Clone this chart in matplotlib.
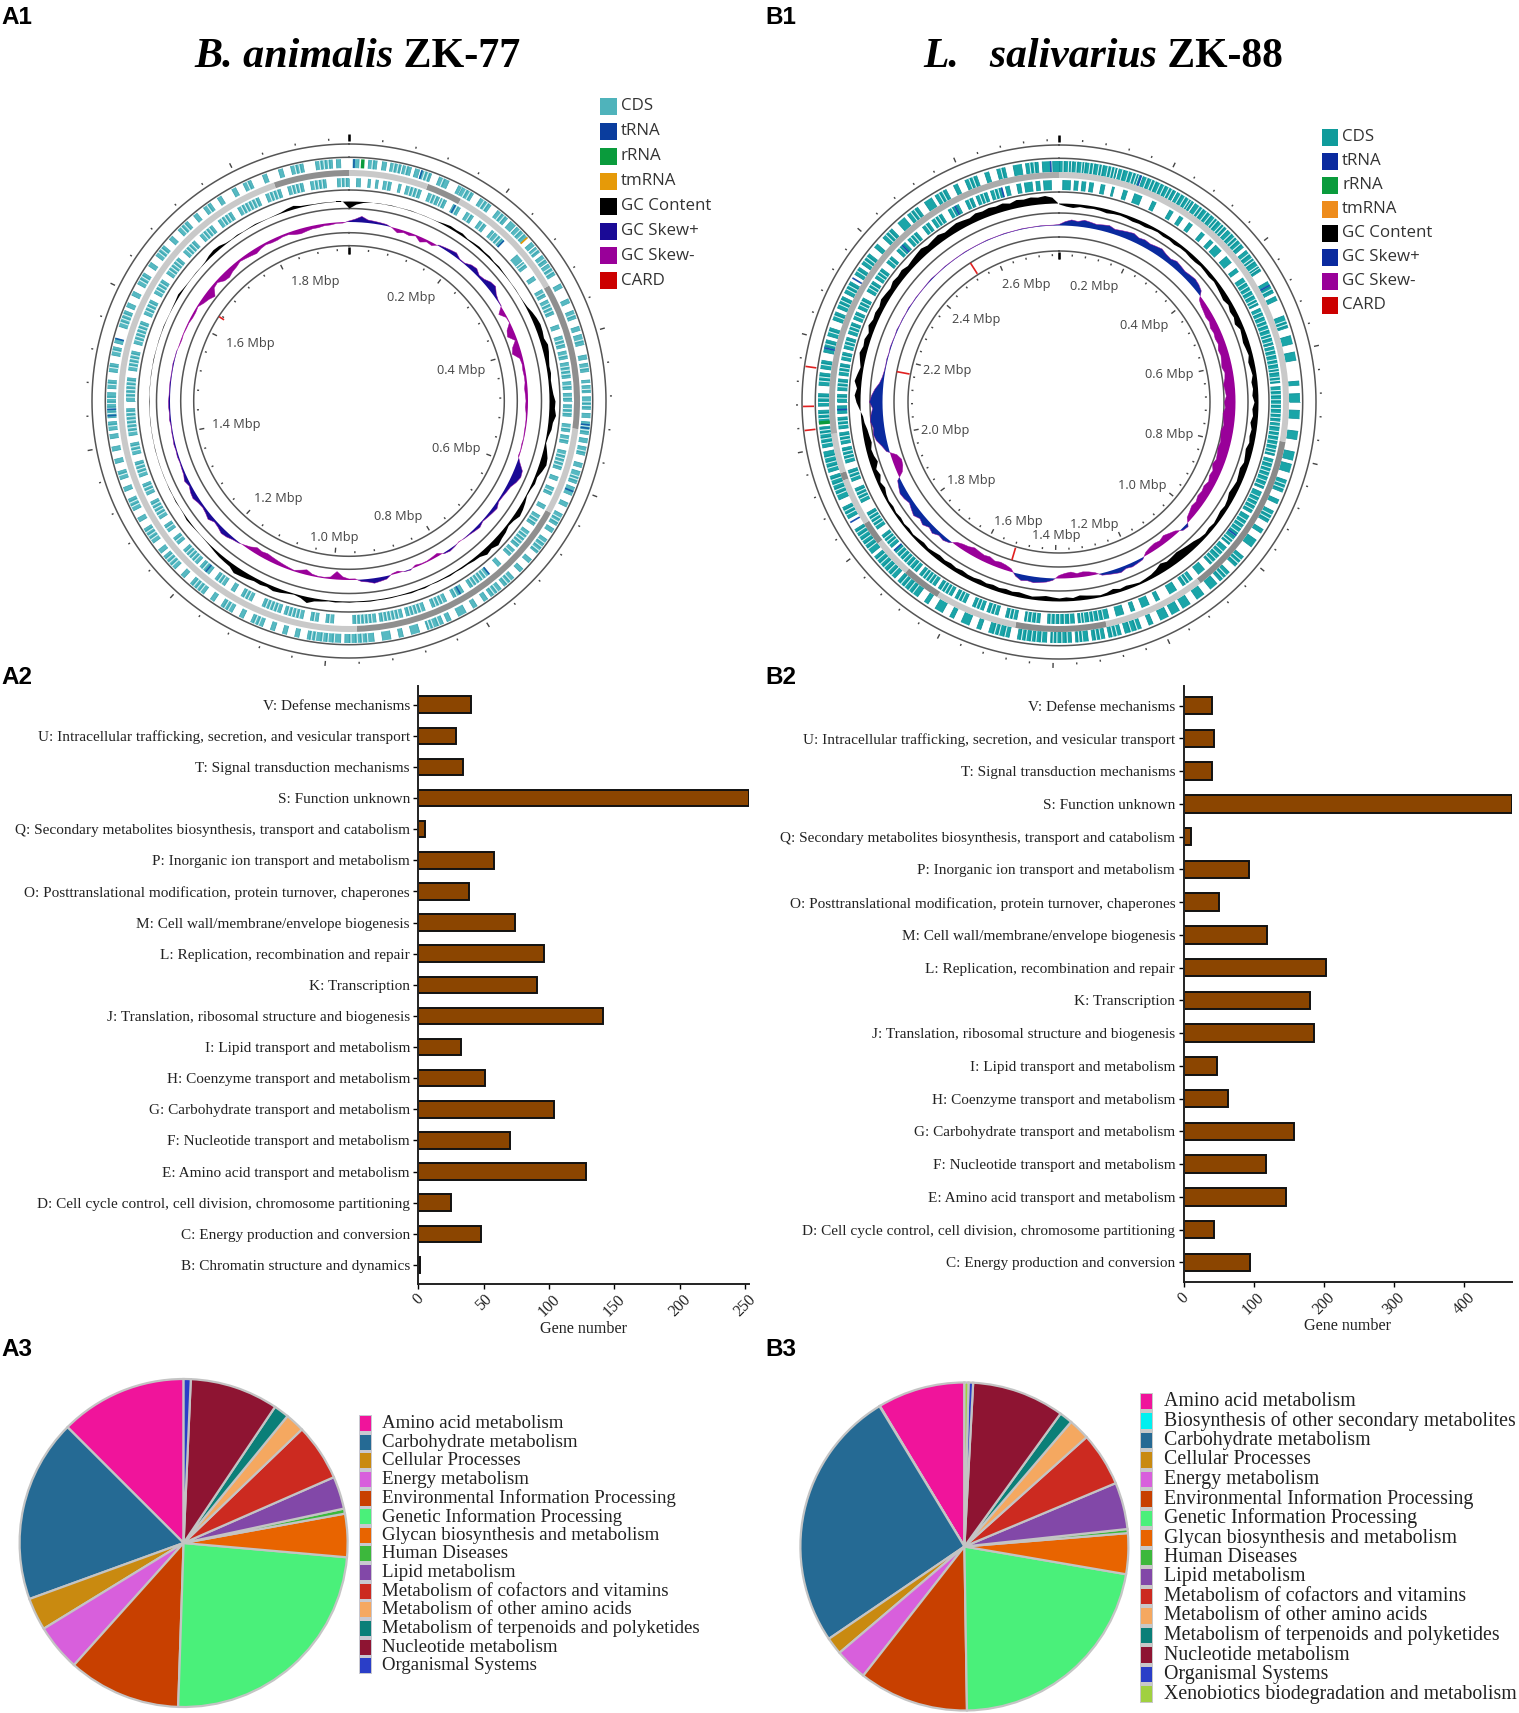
import numpy as np
import matplotlib
matplotlib.use("Agg")
import matplotlib.pyplot as plt
from matplotlib.patches import Rectangle

W, H = 1519, 1713
SERIF = "Liberation Serif"
SANS = "Liberation Sans"
UI = "Open Sans"

# ---------------- data: bars ----------------
cog_a = ["V: Defense mechanisms", "U: Intracellular trafficking, secretion, and vesicular transport",
         "T: Signal transduction mechanisms", "S: Function unknown",
         "Q: Secondary metabolites biosynthesis, transport and catabolism",
         "P: Inorganic ion transport and metabolism",
         "O: Posttranslational modification, protein turnover, chaperones",
         "M: Cell wall/membrane/envelope biogenesis", "L: Replication, recombination and repair",
         "K: Transcription", "J: Translation, ribosomal structure and biogenesis",
         "I: Lipid transport and metabolism", "H: Coenzyme transport and metabolism",
         "G: Carbohydrate transport and metabolism", "F: Nucleotide transport and metabolism",
         "E: Amino acid transport and metabolism",
         "D: Cell cycle control, cell division, chromosome partitioning",
         "C: Energy production and conversion", "B: Chromatin structure and dynamics"]
cog_b = cog_a[:-1]
genes_a = [40, 29, 34, 253, 5, 58, 39, 74, 96, 91, 141, 33, 51, 104, 70, 128, 25, 48, 1]
genes_b = [40, 44, 41, 468, 10, 94, 50, 119, 203, 180, 186, 48, 64, 158, 117, 146, 43, 95]
ticks_a = [0, 50, 100, 150, 200, 250]
ticks_b = [0, 100, 200, 300, 400]

# ---------------- data: pies ----------------
kegg_a = ["Amino acid metabolism", "Carbohydrate metabolism", "Cellular Processes", "Energy metabolism",
          "Environmental Information Processing", "Genetic Information Processing",
          "Glycan biosynthesis and metabolism", "Human Diseases", "Lipid metabolism",
          "Metabolism of cofactors and vitamins", "Metabolism of other amino acids",
          "Metabolism of terpenoids and polyketides", "Nucleotide metabolism", "Organismal Systems"]
kegg_a_vals = [12.5, 18.0, 3.2, 4.6, 11.1, 24.1, 4.25, 0.5, 3.2, 5.6, 1.9, 1.5, 8.7, 0.7]
kegg_a_cols = ["#f0149b", "#256a94", "#c98a10", "#d85fdc", "#c84000", "#4af07a", "#e86400", "#3cb83c",
               "#8248a8", "#cc2a20", "#f5a860", "#0a7f78", "#8e1432", "#2a3ec8"]
kegg_b = ["Amino acid metabolism", "Biosynthesis of other secondary metabolites", "Carbohydrate metabolism",
          "Cellular Processes", "Energy metabolism", "Environmental Information Processing",
          "Genetic Information Processing", "Glycan biosynthesis and metabolism", "Human Diseases",
          "Lipid metabolism", "Metabolism of cofactors and vitamins", "Metabolism of other amino acids",
          "Metabolism of terpenoids and polyketides", "Nucleotide metabolism", "Organismal Systems",
          "Xenobiotics biodegradation and metabolism"]
kegg_b_vals = [8.6, 0.05, 25.8, 1.7, 3.2, 10.8, 22.0, 4.0, 0.4, 4.6, 5.3, 2.1, 1.3, 9.1, 0.45, 0.4]
kegg_b_cols = ["#f0149b", "#00f0f0", "#256a94", "#c98a10", "#d85fdc", "#c84000", "#4af07a", "#e86400",
               "#3cb83c", "#8248a8", "#cc2a20", "#f5a860", "#0a7f78", "#8e1432", "#2a3ec8", "#a0d040"]

# ---------------- data: circular maps (positions read as degrees round the map) ----------------
map_legend = ["CDS", "tRNA", "rRNA", "tmRNA", "GC Content", "GC Skew+", "GC Skew-", "CARD"]
map_a_cols = ["#4fb3bb", "#0a3d9e", "#0a9b3c", "#e69a08", "#000000", "#1a0a96", "#990099", "#cc0000"]
map_b_cols = ["#0f9b9b", "#0a2a9e", "#0a9b3c", "#ee8c1c", "#000000", "#0a2a9e", "#990099", "#cc0000"]
total_a, total_b = 1.944, 2.78

a_outer = [(1,2.4),(4.7,6.7),(8,9),(10,12.5),(13,15),(16,17),(17.5,20),(22,24.5),(27,27.7),(28,31),(33,36),(38,41),
 (42,43.5),(44,47.5),(49,50),(50.5,52),(53,55),(55.5,58.5),(61,62),(65,66),(68,70),(72,73),(74,76.5),(79,80),(81,83),
 (85,85.6),(86.3,88),(89,92),(93,94),(95,98),(99,100),(101,103),(105,106),(107,110),(111,113),(115,116),(118,121),
 (122,123),(125,129),(131,132),(134,135),(137,140),(141,144),(145,146),(148,149),(151,153),(155,156),(157,161),
 (163,165),(167,168),(170,172),(174,181),(182,190),(192,193),(195,196),(198,199),(201,204),(206,207),(209,212),
 (214,215),(217,221),(223,224),(226,230),(231,232),(234,238),(240,241),(243,246),(248,249),(251,253),(255,256),
 (258,259),(261,262),(263,265),(266,272),(273,275),(277,279),(281,283),(284,285),(288,292),(293,294),(296,297),
 (299,302),(304,305),(307,310),(312,313),(315,318),(320,321),(323,325),(327,328),(331,332),(334,336),(339,340),
 (343,344),(346,349),(352,356),(357,358)]
a_inner = [(357,360),(2,3),(5,5.6),(7,7.6),(9,11),(13,13.6),(15,19),(21,24),(24.5,26),(28,30),(32,34),(36,38),(40,40.6),
 (41,44),(49,51),(51.5,53),(56,57),(60,62),(63,67),(70,71),(73,76),(77,79),(80,84),(85,87),(88,90),(91,94),(96,98),
 (99,101),(103,108),(110,111),(113,115),(118,119),(121,124),(126,131),(132,134),(137,138),(141,147),(149,152),
 (154,158),(160,165),(166,172),(173,179),(184,186),(188,190),(192,197),(198,203),(206,209),(211,212),(214,217),
 (219,222),(223,228),(230,232),(234,236),(238,243),(245,248),(250,254),(256,259),(261,268),(270,276),(278,283),
 (285,291),(293,297),(299,303),(305,310),(312,316),(318,322),(324,328),(330,336),(338,342),(344,348),(350,354)]
a_outer_cuts = [5.6,10.8,11.8,13.8,18.3,19.2,23,29,30.1,34,35,39,40,45,46.2,51.2,54,56.5,57.5,69,75.3,82,87.2,90.2,91.1,
 96,97,102,108.2,109,119,120,126,127.1,128.2,138,139,142,143,158,159.5,160.4,175.5,176.8,178,179.5,183.5,185,186.3,188,
 189,202,203,210,211,218,219,220,227,228,229,235,236,237,244,245,252,264,267,268.2,269.4,270.6,274,278,282,289,290,291,
 300,301,308,309,316,317,324,335,347,348,353,354,355]
a_inner_cuts = [358,359,10,16,17,18,22,23,25,29,33,37,42,43,52,61,64,65,66,74,75,78,81,82,83,86,89,92,93,97,100,104,105,
 106,107,114,122,123,127,128,129,130,133,142,143,144,145,146,150,151,155,156,157,161,162,163,164,167,168,169,170,171,
 174,175,176,177,178,185,189,193,194,195,196,199,200,201,202,207,208,215,216,220,221,224,225,226,227,231,235,239,240,
 241,242,246,247,251,252,253,257,258,262,263,264,265,266,267,271,272,273,274,275,279,280,281,282,286,287,288,289,290,
 294,295,296,300,301,302,306,307,308,309,313,314,315,319,320,321,325,326,327,331,332,333,334,335,339,340,341,345,346,
 347,351,352,353]
b_outer = [(0,14),(14.5,20),(20.5,29),(29.5,34),(34.5,44),(44.5,50),(51,57),(60,63),(64,65),(69,72),(74,76),(78,80),
 (85,86),(88,90),(92,94),(97,99),(102,104),(105,107),(109,112),(114,115),(117,120),(122,123),(125,127),(130,133),
 (135,138),(139,141),(143,145),(147,149),(150,152),(153,155),(157,158),(160,164),(165,168),(169,172),(173,176),
 (177,182),(183,190),(192,197),(199,200),(202,204),(206,207),(209,211),(213,214),(216,222),(223,230),(231,238),
 (241,244),(246,252),(253,258),(259,264),(265,268),(269,272),(274,277),(278,280),(282,285),(286,288),(290,292),
 (293,296),(297,300),(302,304),(305,308),(310,311),(313,316),(318,320),(321,324),(326,328),(329,332),(334,335),
 (337,340),(342,343),(345,347),(349,351),(352,355),(356,358),(358.5,360)]
b_inner = [(1,3),(4,5),(6,7),(8,9),(11,12),(14,14.5),(17,18),(20,22),(25,26),(30,31),(33,34),(36,37),(40,41),(43,44),
 (45,47),(49,51),(53,54),(56,64),(65,75),(75.5,85),(86,95),(95.5,104),(105,113),(114,120),(121,130),(131,137),(139,141),
 (143,146),(148,150),(153,154),(156,158),(160,161),(163,165),(167,175),(176,183),(185,189),(191,194),(196,199),(200,203),
 (205,208),(209,213),(214,219),(220,228),(229,233),(235,240),(243,247),(249,252),(254,258),(259,262),(263,266),(267,269),
 (270,272),(273,276),(277,280),(281,283),(284,287),(288,291),(292,294),(295,298),(300,303),(304,307),(309,311),(313,316),
 (317,320),(322,324),(325,328),(330,333),(335,337),(338,341),(342,345),(346,347),(349,350),(351,353),(354,355),(356,358)]
b_outer_cuts = [1,2.3,3,4.2,5.5,6.1,7.4,8.3,9.6,10.4,11.8,12.7,13.5,15.4,16.8,17.9,18.8,19.4,21.5,22.7,23.6,24.9,26,27.2,
 28.1,30.4,31.6,32.7,33.3,35.7,36.6,37.9,39,40.3,41.1,42.4,43.2,45.6,46.8,47.7,48.9,52,53.3,54.1,55.6,56.2,61,62,70.3,
 71.2,110,111,118,119,131,132,136,137,161,162.5,166,167,170,171,174.3,175.2,178,179.3,180.5,181.4,184.2,185.5,186.6,
 187.9,189,193,194.5,195.6,217.4,218.6,219.9,221,224.1,225.3,226.6,227.8,229,232.4,233.6,234.8,236,237.1,242,243,247.3,
 248.4,249.7,251,254,255.2,256.5,260,261.1,262.3,263.2,266,267,270,271,275,276,279,283,284,287,291,294,295,298,299,303,
 306,307,314,315,322,323,330,331,338,339,346,353,354]
b_inner_cuts = [57.3,58.6,59.8,61.1,62.4,63.3,66,67.2,68.5,69.6,70.8,72.1,73,74.2,76.4,77.6,78.9,80,81.3,82.1,83.5,84.4,
 87,88.1,89.4,90.6,91.7,93,94.1,96.3,97.7,98.8,100,101.2,102.4,103.3,106,107.3,108.4,109.6,110.9,112.2,115.4,116.6,
 117.8,119,122.3,123.5,124.7,126,127.1,128.4,129.3,132.4,133.6,135,136.2,144,145,168.4,169.6,170.9,172,173.4,174.2,
 177.2,178.6,179.8,181,182.1,186,187.2,188.3,192,193,197,198,201,202,206,207,210,211,212,215,216,217,218,221,222.3,
 223.5,224.6,225.8,227,230,231,232,236,237,238,239,244,245,246,250,251,255,256,257,260,261,264,265,271,274,275,278,
 279,282,285,286,289,290,293,296,297,301,302,305,306,310,314,315,318,319,323,326,327,331,332,336,339,340,343,344]

a_trna_outer = [1.2, 17.6, 95.7, 96.5, 112, 266.5, 268, 285]
a_trna_inner = [28.5, 44, 141, 150, 220]
a_rrna_outer = [3.3]
a_tmrna_outer = [47.5]
b_trna_outer = [20, 61, 240, 283, 301, 358]
b_trna_inner = [127, 228, 268, 315, 332, 345]
b_rrna_outer = [265]

a_band_dark = [(341,360),(20,29),(60,97),(119,178)]
a_band_light = [(0,20),(29,60),(97,119),(178,341)]
b_band_dark = [(100,142),(168,191),(212,222),(232,238),(250,252)]
b_band_light = [(0,100),(142,168),(191,212),(222,232),(238,250),(252,262)]
b_band_mid = [(262,360)]

# one value every 2 degrees, clockwise from the top of the map
a_gc = [-7,-3,-1,-.3,.4,.2,.5,.2,.3,.5, .2,.3,.2,.4,1.5,2.5,2,2.5,1,1.5, 2,1.5,1.8,1,1.5,.8,.5,.3,.5,.3,
        .6,1.5,3.5,5,6,5.5,4.5,6.5,5.5,4, 3,3.5,2.5,3,4,6,5.5,7,4.5,4, 2,1,3.5,6,7,5,2.5,3,1.5,1,
        3,4.5,5.5,3,2,4,5,7,4.5,6, 3,2.5,1.5,1.5,1,1.5,1,1,.6,1.5, 1,1.5,1,.8,1,1,.8,1.2,1,.8,
        1.2,1,1.5,1,2,3,6,2.5,1,2, 3.5,4.5,3,4,3.5,5,6,7,4,3.5, 3,2,1,.5,.3,.5,1,1.5,.5,.3,
        .8,.3,.5,.2,.3,.2,.3,.2,.4,.2, .3,.2,.4,.2,.3,.5,.2,.3,.2,.4, .2,.5,.3,.2,.4,.3,.6,.3,.2,.5,
        1,2,1,.4,.3,.5,.3,.8,2.5,3.5, 3,1,.5,1,.4,.6,1,.5,.3,.5, 1,2.5,3.5,1.5,1,.5,.6,.4,.3,.3]
a_skew = [1,3,6,3,2.5,2,1.5,-.5,-4,-2, -3,-1,-5,-2,-3,1,2,3,4,1, 1,4,5,2,3,6,7,3,1,.5,
          -6,-1,-.5,-6,-8,-2,-7,-9,-3,-2, -2.5,-2,-2,-3,-2.5,-2,-2.5,-1.5,-1,-1, -1,-.5,-1,-.5,-1,3,8,9,7,4,
          3,2,1.5,4,3,2,1,3,2,1, .5,-.5,1,2,1,-3,-2,-1,-1,-2, 1,.5,-2,-1,3,4,5,3,2,-1,
          -1,-3,-8,-2,-1,-1,-2,-5,-3,-1, -2,-3,-4,-5,-6,-5,-6,-3,-1,1, 2,4,5,3,2,5,3,2,3,5,
          4,2,4,2,1.5,1,1.5,1,1.5,1, 1,.7,1.5,1,1.5,1.5,1,1,1,.7, .7,1,.5,.5,-.5,-1,-.5,-1,-1,-2,
          -2,-1,-4,-6,-9,-3,-2,-6,-7,-5, -4,-2,-3,-4,-5,-3,-2,-3,-3,-2, -2,-4,-5,-4,-3,-3,-2,-2,-1,-1]
b_gc = [-1,-3,-4,-2.5,-3,-2.5,-3,-4,-3,-2.5, -3,-4,-3.5,-4,-3,-2.5,-3.5,-3,-4,-3, -3,-4,-4,-3,-3.5,-4,-3,-4,-5,-6,
        -4,-6,-5,-7,-4,-5,-6,-5,-4,-6, -5,-4,-6,-5,-6,-4,-6,-5,-7,-5, -6,-5,-7,-6,-5,-7,-6,-5,-6,-7,
        -5,-4,-5,-4,-3,-4,-3,-4,-6,-7, -8,-9,-8,-7,-9,-6,-4,-3,-2,-3, -4,-3,-5,-3,-2,-3,-4,-5,-3,-4,
        -3,-4,-5,-4,-3,-4,-5,-4,-5,-4, -5,-4,-5,-4,-4,-5,-4,-5,-4,-5, -4,-3,-4,-3,-2,-3,-2,-3,-2,-3,
        -2,-3,-5,-3,-6,-4,-8,-6,-5,-7, -6,-5,-3,-2,1,4,6,4,7,5, 3,5,7,5,6,4,7,5,6,5, 7,6,5,7,6,7,5,6,7,8,
        6,7,8,6,7,8,7,6,8,7, 8,7,8,6,8,7,8,7,8,6]
b_skew = [1,4,6,5,7,6,5,6,7,5,6,7,8,6,7,6,7,8,6,5,7,6,5,6,7,6,4,
          -3,-5,-6,-7,-6,-8,-7,-8,-7,-9,-8,-9,-10,-8,-9,-11,-10,-9,-11,-10,-12,-11,-10,-12,-11,-10,-11,-10,-9,-11,-8,-9,-7,-9,-8,-9,-7,-8,-6,-4,
          3,2, -3,-5,-7,-5,-6,-5,-3, 2,3,4,3,5,4,3,2, -2,-4,-5,-4,-6,-5,-3, 2,4,5,6,5,6,3,
          -3,-5,-6,-5,-7,-6,-7,-8,-6,-5,-3, 2,4,3,6,4,7,5,8,6,4,6,7,5,3, -5,-8,-9,-6,
          3,6,10,12,11,13,12,10,13,11,8,4,2,
          1,.7,1,.5,1,.7,.5,1,.5,.7, .5,1,.5,.7,.5,.5,.7,1,.5,.5, .7,.5,.5,.5,.7,.5,.5,.5,.7,.5, .5,.7,.5,.5,.7,.5,.5,.7,.5,.5]

a_labels = ["0.2 Mbp", "0.4 Mbp", "0.6 Mbp", "0.8 Mbp", "1.0 Mbp", "1.2 Mbp", "1.4 Mbp", "1.6 Mbp", "1.8 Mbp"]
a_label_pos = [(31,121),(75,116),(114,117),(157,126),(186,137),(216,120),(258,115),(300,114),(344,124)]
b_labels = ["0.2 Mbp", "0.4 Mbp", "0.6 Mbp", "0.8 Mbp", "1.0 Mbp", "1.2 Mbp", "1.4 Mbp", "1.6 Mbp", "1.8 Mbp",
            "2.0 Mbp", "2.2 Mbp", "2.4 Mbp", "2.6 Mbp"]
b_label_pos = [(17,121),(48,115),(76,114),(106.5,115),(135,118),(164,127),(181,134),(199,126),(228,118),(256,117),(286,116),(314.6,117),(344.5,122)]

a_card_inner = [303]
b_card_inner = [327.5, 280.6, 196.6]
b_card_outer = [278, 269, 263.6]

# ---------------- figure ----------------
fig = plt.figure(figsize=(W/100, H/100), dpi=100, facecolor="white")


def px_axes(l, t, r, b, **kw):
    return fig.add_axes([l/W, 1-b/H, (r-l)/W, (b-t)/H], **kw)


def fx(x):
    return x/W


def fy(y):
    return 1-y/H


def title(parts, x0, y, size):
    r = fig.canvas.get_renderer()
    x = x0
    for s, style in parts:
        t = fig.text(x/W, fy(y), s, family=SERIF, weight="bold", style=style, fontsize=size, va="center", ha="left")
        x = t.get_window_extent(r).x1


def swatch_list(labels, cols, xs, ws, xt, y0, dy, hs, fs, family, back=None, color="#222222"):
    if back:
        fig.add_artist(Rectangle((fx(xs-1), fy(y0+dy*(len(labels)-1)+hs/2+1)), (ws+2)/W,
                                 (dy*(len(labels)-1)+hs+2)/H, transform=fig.transFigure, fc=back, ec="none"))
    for i, (lab, c) in enumerate(zip(labels, cols)):
        y = y0+i*dy
        fig.add_artist(Rectangle((fx(xs), fy(y+hs/2)), ws/W, hs/H, transform=fig.transFigure, fc=c, ec="none"))
        fig.text(fx(xt), fy(y), lab, family=family, fontsize=fs, va="center", ha="left", color=color)


def track(ax, spans, cuts, r0, r1, color, edge):
    s = np.array(spans, float)
    th0, th1 = np.deg2rad(s[:, 0]), np.deg2rad(s[:, 1])
    ax.bar((th0+th1)/2, r1-r0, width=th1-th0, bottom=r0, color=color, linewidth=0, align="center")
    ax.vlines(th0, r0, r1, color=edge, lw=0.6)
    ax.vlines(th1, r0, r1, color=edge, lw=0.5)
    c = np.deg2rad(np.array(cuts, float))
    ax.vlines(c, r0, r1, color="#e8f6f6", lw=0.7)
    ax.vlines(c+np.deg2rad(0.4), r0, r1, color=edge, lw=0.7)


def marks(ax, pos, r0, r1, color, lw=1.2):
    ax.vlines(np.deg2rad(pos), r0, r1, color=color, lw=lw)


def grid(vals):
    return np.deg2rad(np.linspace(0, 360, len(vals)+1))


def curve(ax, vals, base, color):
    v = np.array(vals, float)
    th = grid(v)
    v = np.r_[v, v[0]]
    ax.fill_between(th, base, base+v, color=color, lw=0)


def skew_curve(ax, vals, base, cpos, cneg):
    v = np.array(vals, float)
    th = grid(v)
    v = np.r_[v, v[0]]
    ax.fill_between(th, base, base+v, where=v >= 0, color=cpos, lw=0, interpolate=True)
    ax.fill_between(th, base, base+v, where=v <= 0, color=cneg, lw=0, interpolate=True)
    ax.plot(th, base+v, color=cneg, lw=0.4, alpha=0.8)


def circ_map(cx, cy, total, outer, inner, cuts_o, cuts_i, rings, tr_o, tr_i, band, gc, gc_base, skew, skew_base,
             labels, label_pos, cds, cds_edge, cskp, csk):
    ax = px_axes(cx-272, cy-272, cx+272, cy+272, projection="polar")
    ax.set_theta_zero_location("N")
    ax.set_theta_direction(-1)
    ax.set_rlim(0, 272)
    ax.axis("off")
    th = np.linspace(0, 2*np.pi, 721)
    for r in rings:
        ax.plot(th, np.full_like(th, r), color="#555555", lw=1.1, zorder=1)
    for segs, c in band:
        s = np.array(segs, float)
        a0, a1 = np.deg2rad(s[:, 0]), np.deg2rad(s[:, 1])
        ax.bar((a0+a1)/2, 6, width=a1-a0, bottom=tr_i[1]+2, color=c, linewidth=0, zorder=3)
    track(ax, outer, cuts_o, tr_o[0], tr_o[1], cds, cds_edge)
    track(ax, inner, cuts_i, tr_i[0], tr_i[1], cds, cds_edge)
    curve(ax, gc, gc_base, "black")
    skew_curve(ax, skew, skew_base, cskp, csk)
    step = 0.04
    t = np.arange(0, total, step)
    ang = t/total*2*np.pi
    major = np.isclose((t/0.2) % 1, 0) | np.isclose((t/0.2) % 1, 1)
    ax.vlines(ang[~major], rings[0]+4, rings[0]+6, color="#444444", lw=1.0, clip_on=False)
    ax.vlines(ang[major], rings[0]+4, rings[0]+9, color="#444444", lw=1.0, clip_on=False)
    ax.vlines(ang[~major], rings[-1]-5, rings[-1]-3, color="#444444", lw=1.0)
    ax.vlines(ang[major], rings[-1]-8, rings[-1]-3, color="#444444", lw=1.0)
    ax.vlines([0], rings[0]+3, rings[0]+10, color="black", lw=1.8, clip_on=False)
    ax.vlines([0], rings[-1]-8, rings[-1]-1, color="black", lw=1.8)
    for lab, (a, r) in zip(labels, label_pos):
        ax.text(np.deg2rad(a), r, lab, family=UI, fontsize=9.2, color="#444444", ha="center", va="center")
    return ax


ax_a = circ_map(349, 401, total_a, a_outer, a_inner, a_outer_cuts, a_inner_cuts, [257, 243.7, 211, 192.5, 168.3, 155.3],
                (233, 242), (214, 223), [(a_band_dark, "#8f8f8f"), (a_band_light, "#c9c9c9")],
                a_gc, 200, a_skew, 179, a_labels, a_label_pos, "#57b9c2", "#3aa5b0", "#1a0a96", "#990099")
marks(ax_a, a_trna_outer, 233, 242, "#1560a8")
marks(ax_a, a_trna_inner, 214, 223, "#1560a8")
marks(ax_a, a_rrna_outer, 233, 242, "#0a9b3c", 2.5)
marks(ax_a, a_tmrna_outer, 233, 242, "#e69a08", 1.2)
marks(ax_a, a_card_inner, 149, 155, "#e02020")

ax_b = circ_map(1059, 402, total_b, b_outer, b_inner, b_outer_cuts, b_inner_cuts, [257, 243.7, 210, 189, 165, 151],
                (230, 241), (212, 222), [(b_band_dark, "#8a8a8a"), (b_band_light, "#c9c9c9"), (b_band_mid, "#ababab")],
                b_gc, 199, b_skew, 176.5, b_labels, b_label_pos, "#1aa5a8", "#0f9098", "#0a2a9e", "#990099")
marks(ax_b, b_trna_outer, 230, 241, "#1a4fb0")
marks(ax_b, b_trna_inner, 212, 222, "#1a4fb0")
marks(ax_b, b_rrna_outer, 230, 241, "#0a9b3c", 2.5)
marks(ax_b, b_card_inner, 152, 165, "#e02020")
marks(ax_b, b_card_outer, 245, 256, "#e02020")

swatch_list(map_legend, map_a_cols, 600, 17, 621, 106.5, 24.9, 17, 12.2, UI, color="#333333")
swatch_list(map_legend, map_b_cols, 1322, 16, 1342, 137, 24.0, 17, 12.2, UI, color="#333333")

title([("B. animalis", "italic"), (" ZK-77", "normal")], 194, 57, 30.3)
title([("L.   salivarius", "italic"), (" ZK-88", "normal")], 923, 57, 30)
for s, x, y in [("A1", 1, 17), ("B1", 765, 17), ("A2", 1, 678), ("B2", 765, 678), ("A3", 1, 1350), ("B3", 765, 1350)]:
    fig.text(fx(x), fy(y), s, family=SANS, weight="bold", fontsize=17.5, va="center", ha="left")


def bars(box, labels, vals, ticks, xmax, ylim, pad):
    ax = px_axes(*box)
    y = np.arange(len(vals))[::-1]
    ax.barh(y, vals, height=0.53, color="#8b4500", edgecolor="#111111", linewidth=1.4)
    ax.set_yticks(y, labels, family=SERIF, fontsize=11.0, color="#222222")
    ax.set_xticks(ticks, [str(t) for t in ticks], rotation=45, family=SERIF, fontsize=11.5, color="#222222")
    ax.set_xlim(0, xmax)
    ax.set_ylim(*ylim)
    ax.tick_params(axis="y", length=3.5, width=1, pad=2.5)
    ax.tick_params(axis="x", length=3.5, width=1, pad=2)
    for s in ("top", "right"):
        ax.spines[s].set_visible(False)
    for s in ("left", "bottom"):
        ax.spines[s].set_linewidth(1.4)
        ax.spines[s].set_color("#222222")
    ax.set_xlabel("Gene number", family=SERIF, fontsize=11.6, color="#222222", labelpad=pad)


bars((418.3, 686, 749, 1283.6), cog_a, genes_a, ticks_a, 253, (-0.6, 18.6), 1)
bars((1183.5, 686, 1511.7, 1282), cog_b, genes_b, ticks_b, 468, (-0.6, 17.6), 0)


def pie(cx, cy, R, vals, cols):
    ax = px_axes(cx-R, cy-R, cx+R, cy+R)
    ax.pie(vals, colors=cols, startangle=90, counterclock=True, radius=1,
           wedgeprops=dict(edgecolor="#c4c4c4", linewidth=1.6))
    ax.set_xlim(-1, 1)
    ax.set_ylim(-1, 1)


pie(183.6, 1543, 164, kegg_a_vals, kegg_a_cols)
pie(964.4, 1546.5, 164, kegg_b_vals, kegg_b_cols)
swatch_list(kegg_a, kegg_a_cols, 360, 11, 382, 1423.5, 18.63, 15, 13.6, SERIF, back="#c8c8d0")
swatch_list(kegg_b, kegg_b_cols, 1141, 10.5, 1164, 1401.5, 19.5, 15.5, 14.3, SERIF, back="#c8c8c8")

fig.savefig("out.png", dpi=100, facecolor="white")
